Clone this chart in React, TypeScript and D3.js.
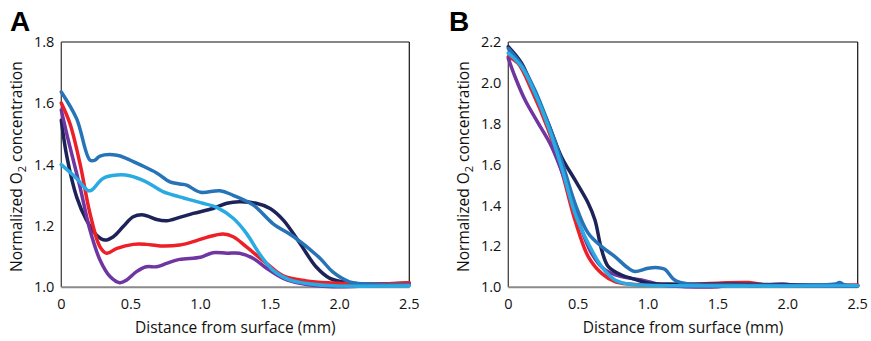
import React from "react";
import * as d3 from "d3";

type Pt = [number, number];

const xTicks = [0, 0.5, 1.0, 1.5, 2.0, 2.5];
const xTickLabels = ["0", "0.5", "1.0", "1.5", "2.0", "2.5"];
const yTicksA = [1.0, 1.2, 1.4, 1.6, 1.8];
const yTicksB = [1.0, 1.2, 1.4, 1.6, 1.8, 2.0, 2.2];

// Panel A series (distance mm, normalized O2)
const aNavy: Pt[] = [
  [0, 1.545], [0.04, 1.426], [0.11, 1.295], [0.18, 1.22], [0.254, 1.17], [0.314, 1.154],
  [0.374, 1.165], [0.445, 1.198], [0.517, 1.23], [0.59, 1.236], [0.685, 1.221], [0.757, 1.217],
  [0.85, 1.228], [0.948, 1.241], [1.09, 1.257], [1.19, 1.274], [1.28, 1.279], [1.4, 1.274],
  [1.5, 1.257], [1.595, 1.219], [1.715, 1.143], [1.83, 1.067], [1.93, 1.029], [2.05, 1.015],
  [2.19, 1.011], [2.5, 1.013],
];
const aPurple: Pt[] = [
  [0, 1.578], [0.05, 1.48], [0.134, 1.328], [0.206, 1.187], [0.278, 1.089], [0.35, 1.035],
  [0.42, 1.015], [0.47, 1.024], [0.54, 1.051], [0.61, 1.067], [0.685, 1.067], [0.757, 1.078],
  [0.85, 1.091], [1.0, 1.098], [1.09, 1.113], [1.19, 1.111], [1.28, 1.111], [1.38, 1.094],
  [1.475, 1.062], [1.595, 1.029], [1.715, 1.013], [1.95, 1.002], [2.19, 1.004], [2.5, 1.011],
];
const aRed: Pt[] = [
  [0, 1.601], [0.062, 1.534], [0.134, 1.404], [0.206, 1.241], [0.278, 1.132], [0.326, 1.111],
  [0.4, 1.127], [0.517, 1.14], [0.61, 1.14], [0.709, 1.135], [0.85, 1.138], [0.948, 1.149],
  [1.044, 1.163], [1.164, 1.174], [1.235, 1.165], [1.33, 1.132], [1.475, 1.078], [1.595, 1.037],
  [1.76, 1.021], [1.95, 1.014], [2.19, 1.01], [2.5, 1.015],
];
const aBlue: Pt[] = [
  [0, 1.637], [0.11, 1.55], [0.206, 1.415], [0.242, 1.415], [0.278, 1.428], [0.4, 1.431],
  [0.47, 1.42], [0.565, 1.4], [0.685, 1.373], [0.78, 1.344], [0.85, 1.337], [0.9, 1.333],
  [1.0, 1.31], [1.14, 1.315], [1.235, 1.3], [1.38, 1.268], [1.52, 1.208], [1.67, 1.165],
  [1.86, 1.094], [1.95, 1.05], [2.07, 1.018], [2.19, 1.011], [2.5, 1.008],
];
const aLight: Pt[] = [
  [0, 1.4], [0.11, 1.355], [0.194, 1.315], [0.218, 1.317], [0.3, 1.355], [0.4, 1.366],
  [0.49, 1.364], [0.61, 1.344], [0.73, 1.312], [0.85, 1.295], [1.0, 1.276], [1.12, 1.26],
  [1.235, 1.225], [1.33, 1.176], [1.43, 1.105], [1.52, 1.056], [1.64, 1.024], [1.79, 1.011],
  [1.95, 1.005], [2.5, 1.005],
];

// Panel B series
const bNavy: Pt[] = [
  [0, 2.177], [0.095, 2.096], [0.19, 1.949], [0.286, 1.802], [0.38, 1.639], [0.477, 1.525],
  [0.572, 1.411], [0.62, 1.329], [0.668, 1.183], [0.716, 1.101], [0.81, 1.06], [0.906, 1.039],
  [1.0, 1.02], [1.145, 1.016], [1.62, 1.015], [2.5, 1.008],
];
const bPurple: Pt[] = [
  [0, 2.12], [0.048, 2.03], [0.12, 1.916], [0.215, 1.802], [0.31, 1.688], [0.405, 1.525],
  [0.5, 1.329], [0.596, 1.166], [0.692, 1.085], [0.81, 1.052], [0.954, 1.036], [1.1, 1.011],
  [1.26, 1.003], [1.5, 1.003], [1.62, 1.016], [1.76, 1.007], [1.96, 1.016], [2.1, 1.007],
  [2.5, 1.007],
];
const bRed: Pt[] = [
  [0, 2.128], [0.07, 2.096], [0.167, 1.965], [0.286, 1.77], [0.38, 1.574], [0.477, 1.329],
  [0.572, 1.15], [0.668, 1.068], [0.763, 1.028], [0.859, 1.016], [1.145, 1.01], [1.5, 1.02],
  [1.72, 1.023], [1.86, 1.011], [2.5, 1.011],
];
const bBlue: Pt[] = [
  [0, 2.169], [0.095, 2.088], [0.19, 1.965], [0.286, 1.802], [0.38, 1.623], [0.477, 1.411],
  [0.572, 1.264], [0.668, 1.199], [0.763, 1.15], [0.859, 1.093], [0.906, 1.077], [1.0, 1.093],
  [1.07, 1.096], [1.12, 1.088], [1.19, 1.036], [1.29, 1.016], [1.62, 1.011], [2.22, 1.011],
  [2.34, 1.016], [2.37, 1.023], [2.41, 1.011], [2.5, 1.008],
];
const bLight: Pt[] = [
  [0, 2.145], [0.095, 2.079], [0.19, 1.949], [0.286, 1.786], [0.38, 1.59], [0.477, 1.362],
  [0.572, 1.215], [0.668, 1.101], [0.763, 1.036], [0.859, 1.016], [1.0, 1.01], [2.5, 1.008],
];

const seriesColors = {
  navy: "#1d2358",
  purple: "#6f35a0",
  red: "#ed1f27",
  blue: "#2673b8",
  light: "#2aaae2",
};

const FONT = "'Open Sans', 'Noto Sans', sans-serif";

interface PanelProps {
  letter: string;
  left: number;
  right: number;
  yTicks: number[];
  yMax: number;
  series: { data: Pt[]; color: string }[];
  letterX: number;
}

function Panel({ letter, left, right, yTicks, yMax, series, letterX }: PanelProps) {
  const top = 42;
  const bottom = 287.3;
  const x = d3.scaleLinear().domain([0, 2.5]).range([left, right]);
  const y = d3.scaleLinear().domain([1.0, yMax]).range([bottom, top]);
  const line = d3
    .line<Pt>()
    .x((d) => x(d[0]))
    .y((d) => y(d[1]))
    .curve(d3.curveCatmullRom.alpha(0.5));
  const cx = (left + right) / 2;
  const cy = (top + bottom) / 2;
  return (
    <g>
      <text x={letterX} y={31} fontFamily="'Liberation Sans', Arial, sans-serif" fontWeight="bold" fontSize={28} fill="#000">
        {letter}
      </text>
      {/* frame */}
      <line x1={left} x2={right} y1={top} y2={top} stroke="#111" strokeWidth={1.2} />
      <line x1={right} x2={right} y1={top} y2={bottom} stroke="#111" strokeWidth={1.2} />
      <line x1={left} x2={left} y1={top} y2={bottom} stroke="#444" strokeWidth={1.3} />
      <line x1={left} x2={right} y1={bottom} y2={bottom} stroke="#8a8a8a" strokeWidth={2} />
      {yTicks.map((t) => (
        <text key={t} x={left - 7} y={y(t)} dy="0.35em" textAnchor="end" fontFamily={FONT} fontSize={14.5} fill="#111">
          {t.toFixed(1)}
        </text>
      ))}
      {xTicks.map((t, i) => (
        <text key={t} x={x(t)} y={309} textAnchor="middle" fontFamily={FONT} fontSize={14.5} fill="#111">
          {xTickLabels[i]}
        </text>
      ))}
      <text x={cx} y={333} textAnchor="middle" fontFamily={FONT} fontSize={15.5} fill="#111">
        Distance from surface (mm)
      </text>
      <text
        transform={`translate(${left - 39},${cy + 2}) rotate(-90)`}
        textAnchor="middle"
        fontFamily={FONT}
        fontSize={15.5}
        fill="#111"
      >
        Normalized O
        <tspan fontSize={11} dy={4}>2</tspan>
        <tspan dy={-4}> concentration</tspan>
      </text>
      {series.map((s, i) => (
        <path key={i} d={line(s.data) || ""} fill="none" stroke={s.color} strokeWidth={3.5} strokeLinejoin="round" strokeLinecap="round" />
      ))}
    </g>
  );
}

export default function App() {
  const seriesA = [
    { data: aNavy, color: seriesColors.navy },
    { data: aPurple, color: seriesColors.purple },
    { data: aRed, color: seriesColors.red },
    { data: aBlue, color: seriesColors.blue },
    { data: aLight, color: seriesColors.light },
  ];
  const seriesB = [
    { data: bRed, color: seriesColors.red },
    { data: bPurple, color: seriesColors.purple },
    { data: bNavy, color: seriesColors.navy },
    { data: bBlue, color: seriesColors.blue },
    { data: bLight, color: seriesColors.light },
  ];
  return (
    <svg width={871} height={341} style={{ position: "absolute", left: 0, top: 0, background: "#fff" }}>
      <rect width={871} height={341} fill="#fff" />
      <Panel letter="A" left={61.3} right={409.3} yTicks={yTicksA} yMax={1.8} series={seriesA} letterX={10} />
      <Panel letter="B" left={508.3} right={857.7} yTicks={yTicksB} yMax={2.2} series={seriesB} letterX={449} />
    </svg>
  );
}
